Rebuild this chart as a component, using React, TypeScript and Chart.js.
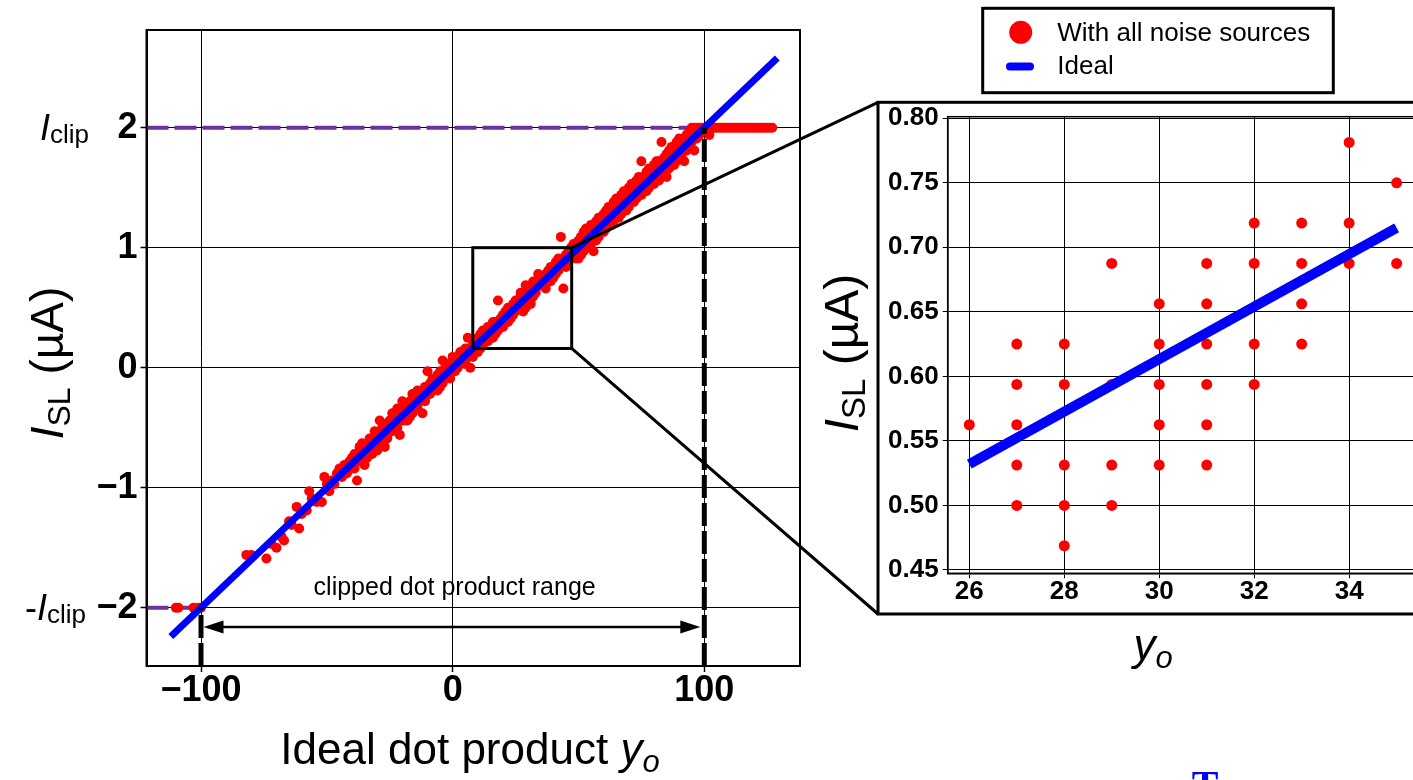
import React, { useEffect, useRef } from 'react';
import { Chart, registerables } from 'chart.js';

Chart.register(...registerables);

const FONT = "'Liberation Sans', Arial, Helvetica, sans-serif";

// ---------- main panel data ----------
const mainXTicks = [-100, 0, 100];
const mainYTicks = [-2, -1, 0, 1, 2];
const mainXRange = [-121.66, 138.03];
const mainYRange = [-2.486, 2.814];

const idealX = [-112, 129];
const idealY = [-2.24, 2.58];
const clipLevels = [2, -2];
const clipRangeX = [-100, 100];
const zoomBoxX = [8, 47.3];
const zoomBoxY = [0.16, 1.0];
const arrowY = -2.16;

// noisy samples, grouped as [x, [y values...]]
const lowClipPoints: [number, number][] = [[-110, -2], [-109, -2], [-103, -2], [-101, -2], [-100, -2]];
const sparseLeftPoints: [number, number][] = [
  [-82, -1.56], [-80, -1.56], [-74, -1.59], [-72, -1.47], [-70, -1.5], [-68, -1.41], [-67, -1.44],
  [-65, -1.28], [-64, -1.31], [-62, -1.16], [-61, -1.34], [-60, -1.22], [-58, -1.19], [-57, -1.03],
  [-56, -1.09], [-54, -1.12], [-52, -1.12], [-51, -0.91], [-50, -0.97], [-49, -1.03], [-48, -0.94],
  [-47, -0.97], [-46, -0.88], [-45, -0.84], [-44, -0.91], [-43, -0.81], [-42, -0.88], [-41, -0.78],
  [-40, -0.75], [-40, -0.84],
];
const negativeBand: [number, number[]][] = [
  [-39, [-0.75, -0.72, -0.84]], [-38, [-0.94, -0.72]], [-37, [-0.69, -0.78, -0.66]], [-36, [-0.75, -0.63]], [-35, [-0.81, -0.66]],
  [-34, [-0.69, -0.75]], [-33, [-0.63, -0.72, -0.59]], [-32, [-0.59, -0.66, -0.72]], [-31, [-0.53, -0.66]], [-30, [-0.59, -0.63, -0.69]],
  [-29, [-0.44, -0.56, -0.63]], [-28, [-0.5, -0.59]], [-27, [-0.66, -0.53, -0.47]], [-26, [-0.47, -0.56, -0.59]], [-25, [-0.44, -0.53]],
  [-24, [-0.38, -0.5, -0.53]], [-23, [-0.41, -0.47, -0.38]], [-22, [-0.34, -0.44, -0.5]], [-21, [-0.56, -0.41]], [-20, [-0.28, -0.41, -0.44]],
  [-19, [-0.34, -0.44, -0.31]], [-18, [-0.31, -0.38, -0.44]], [-17, [-0.28, -0.41]], [-16, [-0.22, -0.34, -0.38]], [-15, [-0.25, -0.31, -0.22]],
  [-14, [-0.19, -0.31, -0.34]], [-13, [-0.22, -0.28]], [-12, [-0.19, -0.38, -0.25]], [-11, [-0.16, -0.25, -0.28]], [-10, [-0.03, -0.22, -0.19]],
  [-9, [-0.13, -0.19, -0.22]], [-8, [-0.09, -0.19, -0.13]], [-7, [-0.13, -0.16]], [-6, [-0.13, -0.06, -0.19]], [-5, [-0.03, -0.16, -0.09]],
  [-4, [0.06, -0.09, -0.13]], [-3, [0.0, -0.06, -0.09]], [-2, [0.03, -0.06, -0.03]], [-1, [0.03, -0.09, 0.0]],
];
const positiveBand: [number, number[]][] = [
  [0, [0.0, 0.09, -0.03]], [1, [0.06, -0.03, 0.03]], [2, [0.09, 0.0, 0.03]], [3, [0.13, 0.03, 0.09]], [4, [0.06, 0.09, 0.13]],
  [5, [0.16, 0.06, 0.03]], [6, [0.25, 0.09, 0.13]], [7, [0.0, 0.16, 0.13]], [8, [0.19, 0.13, 0.09]], [9, [0.22, 0.16, 0.13]],
  [10, [0.19, 0.25, 0.13]], [11, [0.16, 0.28, 0.22]], [12, [0.25, 0.19, 0.31]], [13, [0.31, 0.22, 0.28]], [14, [0.28, 0.22, 0.34]],
  [15, [0.34, 0.25, 0.31]], [16, [0.31, 0.38, 0.25]], [17, [0.28, 0.38, 0.34]], [18, [0.56, 0.34, 0.31]], [19, [0.41, 0.34, 0.38]],
  [20, [0.38, 0.44, 0.34]], [21, [0.47, 0.38, 0.41]], [22, [0.41, 0.5, 0.38]], [23, [0.47, 0.41, 0.5]], [24, [0.53, 0.44, 0.47]],
  [25, [0.47, 0.56, 0.5]],
  [36, [0.69, 0.75, 0.72]], [37, [0.72, 0.78, 0.66]], [38, [0.75, 0.81, 0.72]], [39, [0.78, 0.72, 0.84]],
  [40, [0.81, 0.84, 0.75]], [41, [0.78, 0.88, 0.84]], [42, [0.84, 0.91, 0.81]], [43, [1.09, 0.88, 0.84]],
  [44, [0.66, 0.91, 0.88]], [45, [0.94, 0.84, 0.91]], [46, [0.97, 0.88, 0.94]], [47, [0.94, 1.0, 0.91]],
  [48, [0.97, 1.03, 0.94]], [49, [1.0, 0.91, 1.03]],
];
const upperBand: [number, number[]][] = [
  [50, [1.06, 0.97, 0.91]], [51, [1.09, 1.03, 0.94]], [52, [1.13, 1.06, 0.97]], [53, [1.16, 1.03, 1.09]],
  [54, [1.13, 1.06, 1.0]], [55, [1.19, 1.09, 1.03]], [56, [1.16, 0.97, 1.09]], [57, [1.22, 1.13, 1.06]],
  [58, [1.25, 1.19, 1.09]], [59, [1.22, 1.13, 1.25]], [60, [1.28, 1.19, 1.13]], [61, [1.31, 1.22, 1.16]],
  [62, [1.28, 1.19, 1.34]], [63, [1.31, 1.25, 1.19]], [64, [1.38, 1.28, 1.22]], [65, [1.34, 1.25, 1.41]],
  [66, [1.38, 1.31, 1.25]], [67, [1.44, 1.34, 1.28]], [68, [1.41, 1.31, 1.47]], [69, [1.44, 1.38, 1.31]],
  [70, [1.5, 1.41, 1.34]], [71, [1.47, 1.38, 1.53]], [72, [1.5, 1.44, 1.38]], [73, [1.56, 1.47, 1.41]],
  [74, [1.53, 1.44, 1.59]], [75, [1.72, 1.53, 1.44]], [76, [1.59, 1.5, 1.47]], [77, [1.63, 1.56, 1.47]],
  [78, [1.59, 1.5, 1.66]], [79, [1.66, 1.59, 1.53]], [80, [1.69, 1.63, 1.53]], [81, [1.66, 1.59, 1.72]],
  [82, [1.72, 1.63, 1.56]], [83, [1.88, 1.69, 1.59]], [84, [1.75, 1.66, 1.63]], [85, [1.59, 1.72, 1.78]],
  [86, [1.81, 1.72, 1.66]], [87, [1.78, 1.69, 1.84]], [88, [1.84, 1.75, 1.69]], [89, [1.88, 1.78, 1.72]],
  [90, [1.84, 1.75, 1.91]], [91, [1.88, 1.81, 1.75]], [92, [1.72, 1.91, 1.84]], [93, [1.94, 1.84, 1.81]],
  [94, [1.97, 1.91, 1.84]], [95, [2.0, 1.94, 1.88]], [96, [1.81, 2.0, 1.94]], [97, [2.0, 1.97, 1.91]],
  [98, [2.0, 1.94]], [99, [2.0, 1.97]], [100, [2.0]], [101, [2.0]], [102, [1.94, 2.0]],
];
const highClipX = [103, 104, 105, 106, 107, 108, 109, 110, 111, 112, 113, 114, 115, 116, 117, 118, 119, 120, 121, 122, 123, 124, 125, 126, 127];
const highClipY = 2;

// ---------- inset data ----------
const insetXTicks = [26, 28, 30, 32, 34];
const insetYTicks = [0.45, 0.5, 0.55, 0.6, 0.65, 0.7, 0.75, 0.8];
const insetXRange = [25.545, 35.45];
const insetYRange = [0.4474, 0.8012];
const insetColumns: [number, number[]][] = [
  [26, [0.5625]],
  [27, [0.625, 0.59375, 0.5625, 0.53125, 0.5]],
  [28, [0.625, 0.59375, 0.53125, 0.5, 0.46875]],
  [29, [0.6875, 0.59375, 0.53125, 0.5]],
  [30, [0.65625, 0.625, 0.59375, 0.5625, 0.53125]],
  [31, [0.6875, 0.65625, 0.625, 0.59375, 0.5625, 0.53125]],
  [32, [0.71875, 0.6875, 0.625, 0.59375]],
  [33, [0.71875, 0.6875, 0.65625, 0.625]],
  [34, [0.78125, 0.71875, 0.6875]],
  [35, [0.75, 0.6875]],
];
const insetIdealX = [26, 35];
const insetIdealY = [0.532, 0.715];

// ---------- layout (page pixels) ----------
const INSET_LEFT = 810;
const INSET_TOP = 95;
const INSET_FRAME = { left: 878, top: 102.3, bottom: 614 };

const flatten = (cols: [number, number[]][]) =>
  cols.flatMap(([x, ys]) => ys.map((y) => ({ x, y })));

const fmtMinus = (v: number) => (v < 0 ? '\u2212' + Math.abs(v) : String(v));

type Part = { t: string; font: string; dy?: number };
function drawParts(ctx: CanvasRenderingContext2D, parts: Part[], x: number, y: number, align: 'left' | 'center' | 'right') {
  let total = 0;
  for (const p of parts) {
    ctx.font = p.font;
    total += ctx.measureText(p.t).width;
  }
  let cx = align === 'center' ? x - total / 2 : align === 'right' ? x - total : x;
  ctx.textAlign = 'left';
  ctx.textBaseline = 'alphabetic';
  for (const p of parts) {
    ctx.font = p.font;
    ctx.fillText(p.t, cx, y + (p.dy || 0));
    cx += ctx.measureText(p.t).width;
  }
}

const ISL = (size: number, sub: number): Part[] => [
  { t: 'I', font: `italic ${size}px ${FONT}` },
  { t: 'SL', font: `${sub}px ${FONT}`, dy: 7 },
  { t: ' (\u00b5A)', font: `${size}px ${FONT}` },
];

const mainDecor = {
  id: 'mainDecor',
  afterDraw(chart: any) {
    const { ctx, chartArea: a, scales } = chart;
    const x = scales.x, y = scales.y;
    ctx.save();
    ctx.strokeStyle = '#000';
    ctx.fillStyle = '#000';
    ctx.lineWidth = 2;
    ctx.strokeRect(a.left, a.top, a.right - a.left, a.bottom - a.top);

    // zoom box + connectors
    const bx0 = x.getPixelForValue(zoomBoxX[0]);
    const bx1 = x.getPixelForValue(zoomBoxX[1]);
    const byTop = y.getPixelForValue(zoomBoxY[1]);
    const byBot = y.getPixelForValue(zoomBoxY[0]);
    ctx.lineWidth = 3;
    ctx.strokeRect(bx0, byTop, bx1 - bx0, byBot - byTop);
    ctx.beginPath();
    ctx.moveTo(bx1, byTop);
    ctx.lineTo(INSET_FRAME.left, INSET_FRAME.top);
    ctx.moveTo(bx1, byBot);
    ctx.lineTo(INSET_FRAME.left, INSET_FRAME.bottom);
    ctx.stroke();

    // double arrow
    const ay = y.getPixelForValue(arrowY);
    const ax0 = x.getPixelForValue(clipRangeX[0]) + 2.5;
    const ax1 = x.getPixelForValue(clipRangeX[1]) - 4;
    ctx.lineWidth = 2.5;
    ctx.beginPath();
    ctx.moveTo(ax0 + 15, ay);
    ctx.lineTo(ax1 - 15, ay);
    ctx.stroke();
    ctx.beginPath();
    ctx.moveTo(ax0, ay);
    ctx.lineTo(ax0 + 20, ay - 6.5);
    ctx.lineTo(ax0 + 20, ay + 6.5);
    ctx.closePath();
    ctx.fill();
    ctx.beginPath();
    ctx.moveTo(ax1, ay);
    ctx.lineTo(ax1 - 20, ay - 6.5);
    ctx.lineTo(ax1 - 20, ay + 6.5);
    ctx.closePath();
    ctx.fill();
    ctx.font = `25px ${FONT}`;
    ctx.textAlign = 'center';
    ctx.textBaseline = 'alphabetic';
    ctx.fillText('clipped dot product range', x.getPixelForValue(0) + 2, ay - 31.5);

    // I_clip labels
    const yc = y.getPixelForValue(clipLevels[0]);
    const ycn = y.getPixelForValue(clipLevels[1]);
    drawParts(ctx, [
      { t: 'I', font: `italic 36px ${FONT}` },
      { t: 'clip', font: `26px ${FONT}`, dy: 3 },
    ], 89, yc + 12, 'right');
    drawParts(ctx, [
      { t: '-', font: `36px ${FONT}` },
      { t: 'I', font: `italic 36px ${FONT}` },
      { t: 'clip', font: `26px ${FONT}`, dy: 3 },
    ], 86, ycn + 12, 'right');

    // axis titles
    drawParts(ctx, [
      { t: 'Ideal dot product ', font: `44px ${FONT}` },
      { t: 'y', font: `italic 44px ${FONT}` },
      { t: 'o', font: `italic 31px ${FONT}`, dy: 8 },
    ], 470, 764, 'center');
    ctx.save();
    ctx.translate(63, 363);
    ctx.rotate(-Math.PI / 2);
    drawParts(ctx, ISL(46, 32), 0, 0, 'center');
    ctx.restore();

    // legend
    ctx.fillStyle = '#fff';
    ctx.fillRect(982.7, 8.3, 350.6, 84.4);
    ctx.strokeStyle = '#000';
    ctx.lineWidth = 3;
    ctx.strokeRect(982.7, 8.3, 350.6, 84.4);
    ctx.fillStyle = '#ff0000';
    ctx.beginPath();
    ctx.arc(1020.7, 32.3, 11.5, 0, Math.PI * 2);
    ctx.fill();
    ctx.strokeStyle = '#0000ff';
    ctx.lineWidth = 8;
    ctx.lineCap = 'round';
    ctx.beginPath();
    ctx.moveTo(1010, 66.5);
    ctx.lineTo(1030, 66.5);
    ctx.stroke();
    ctx.fillStyle = '#000';
    ctx.font = `26px ${FONT}`;
    ctx.textAlign = 'left';
    ctx.fillText('With all noise sources', 1057.3, 41);
    ctx.fillText('Ideal', 1057.3, 73.5);

    // cropped caption fragment
    ctx.fillStyle = '#0000ff';
    ctx.font = `bold 40px 'Liberation Serif', serif`;
    ctx.textAlign = 'center';
    ctx.fillText('T', 1205, 797.5);
    ctx.restore();
  },
};

const insetDecor = {
  id: 'insetDecor',
  afterDraw(chart: any) {
    const { ctx, chartArea: a } = chart;
    ctx.save();
    ctx.strokeStyle = '#000';
    ctx.lineWidth = 1.5;
    ctx.strokeRect(a.left, a.top, a.right - a.left, a.bottom - a.top);
    ctx.lineWidth = 3;
    const fl = INSET_FRAME.left - INSET_LEFT;
    const ft = INSET_FRAME.top - INSET_TOP;
    const fb = INSET_FRAME.bottom - INSET_TOP;
    ctx.strokeRect(fl, ft, 700, fb - ft);
    ctx.fillStyle = '#000';
    drawParts(ctx, [
      { t: 'y', font: `italic 44px ${FONT}` },
      { t: 'o', font: `italic 31px ${FONT}`, dy: 8 },
    ], 1153 - INSET_LEFT, 660 - INSET_TOP, 'center');
    ctx.save();
    ctx.translate(858 - INSET_LEFT, 353 - INSET_TOP);
    ctx.rotate(-Math.PI / 2);
    drawParts(ctx, ISL(48, 33), 0, 0, 'center');
    ctx.restore();
    ctx.restore();
  },
};

export default function App() {
  const mainRef = useRef<HTMLCanvasElement>(null);
  const insetRef = useRef<HTMLCanvasElement>(null);

  useEffect(() => {
    const noisy = [
      ...lowClipPoints.map(([x, y]) => ({ x, y })),
      ...sparseLeftPoints.map(([x, y]) => ({ x, y })),
      ...flatten(negativeBand),
      ...flatten(positiveBand),
      ...flatten(insetColumns),
      ...flatten(upperBand),
      ...highClipX.map((x) => ({ x, y: highClipY })),
    ];
    const tickFontMain = { family: FONT, size: 36, weight: 'bold' as const };
    const main = new Chart(mainRef.current!, {
      type: 'scatter',
      data: {
        datasets: [
          {
            label: 'clip -100',
            data: [{ x: clipRangeX[0], y: mainYRange[0] }, { x: clipRangeX[0], y: clipLevels[1] }],
            showLine: true, borderColor: '#000', borderWidth: 5, borderDash: [23, 5], pointRadius: 0,
          },
          {
            label: 'clip 100',
            data: [{ x: clipRangeX[1], y: mainYRange[0] }, { x: clipRangeX[1], y: clipLevels[0] }],
            showLine: true, borderColor: '#000', borderWidth: 5, borderDash: [23, 5], pointRadius: 0,
          },
          {
            label: 'Ideal',
            data: idealX.map((x, i) => ({ x, y: idealY[i] })),
            showLine: true, borderColor: '#0000ff', borderWidth: 7, pointRadius: 0,
          },
          {
            label: 'With all noise sources',
            data: noisy,
            showLine: false, pointRadius: 5, pointBackgroundColor: '#ff0000', pointBorderWidth: 0,
            backgroundColor: '#ff0000', borderColor: '#ff0000',
          },
          {
            label: 'Iclip',
            data: [{ x: mainXRange[0], y: clipLevels[0] }, { x: clipRangeX[1], y: clipLevels[0] }],
            showLine: true, borderColor: '#7030a0', borderWidth: 4, borderDash: [22, 6], pointRadius: 0,
          },
          {
            label: '-Iclip',
            data: [{ x: mainXRange[0], y: clipLevels[1] }, { x: clipRangeX[0], y: clipLevels[1] }],
            showLine: true, borderColor: '#7030a0', borderWidth: 4, borderDash: [22, 6], pointRadius: 0,
          },
        ],
      },
      options: {
        responsive: false,
        animation: false,
        events: [],
        layout: { padding: { left: 0, top: 30, right: 613, bottom: 0 } },
        plugins: { legend: { display: false }, tooltip: { enabled: false } },
        scales: {
          x: {
            type: 'linear', min: mainXRange[0], max: mainXRange[1],
            afterBuildTicks: (s: any) => { s.ticks = mainXTicks.map((v) => ({ value: v })); },
            afterFit: (s: any) => { s.height = 114; },
            grid: { color: '#000', lineWidth: 1, tickLength: 6, tickColor: '#000', tickWidth: 1.5 },
            border: { display: true, color: '#000', width: 2 },
            ticks: { font: tickFontMain, color: '#000', padding: -3, maxRotation: 0, autoSkip: false, callback: (v: any) => fmtMinus(Number(v)) },
          },
          y: {
            type: 'linear', min: mainYRange[0], max: mainYRange[1],
            afterBuildTicks: (s: any) => { s.ticks = mainYTicks.map((v) => ({ value: v })); },
            afterFit: (s: any) => { s.width = 146.5; },
            grid: { color: '#000', lineWidth: 1, tickLength: 6, tickColor: '#000', tickWidth: 1.5 },
            border: { display: true, color: '#000', width: 2 },
            ticks: { font: tickFontMain, color: '#000', padding: 3, autoSkip: false, callback: (v: any) => fmtMinus(Number(v)) },
          },
        },
      },
      plugins: [mainDecor],
    } as any);

    const tickFontInset = { family: FONT, size: 26, weight: 'bold' as const };
    const inset = new Chart(insetRef.current!, {
      type: 'scatter',
      data: {
        datasets: [
          {
            label: 'Ideal',
            data: insetIdealX.map((x, i) => ({ x, y: insetIdealY[i] })),
            showLine: true, borderColor: '#0000ff', borderWidth: 10, pointRadius: 0,
          },
          {
            label: 'With all noise sources',
            data: flatten(insetColumns),
            showLine: false, pointRadius: 5.5, pointBackgroundColor: '#ff0000', pointBorderWidth: 0,
            backgroundColor: '#ff0000', borderColor: '#ff0000',
          },
        ],
      },
      options: {
        responsive: false,
        animation: false,
        events: [],
        layout: { padding: { left: 0, top: 21.7, right: 32, bottom: 0 } },
        plugins: { legend: { display: false }, tooltip: { enabled: false } },
        scales: {
          x: {
            type: 'linear', min: insetXRange[0], max: insetXRange[1],
            afterBuildTicks: (s: any) => { s.ticks = insetXTicks.map((v) => ({ value: v })); },
            afterFit: (s: any) => { s.height = 121.7; },
            grid: { color: '#000', lineWidth: 1, tickLength: 5, tickColor: '#000' },
            border: { display: true, color: '#000', width: 1.5 },
            ticks: { font: tickFontInset, color: '#000', padding: -2, maxRotation: 0, autoSkip: false, callback: (v: any) => String(v) },
          },
          y: {
            type: 'linear', min: insetYRange[0], max: insetYRange[1],
            afterBuildTicks: (s: any) => { s.ticks = insetYTicks.map((v) => ({ value: v })); },
            afterFit: (s: any) => { s.width = 137.7; },
            grid: { color: '#000', lineWidth: 1, tickLength: 5, tickColor: '#000' },
            border: { display: true, color: '#000', width: 1.5 },
            ticks: { font: tickFontInset, color: '#000', padding: 4, autoSkip: false, callback: (v: any) => Number(v).toFixed(2) },
          },
        },
      },
      plugins: [insetDecor],
    } as any);

    return () => {
      main.destroy();
      inset.destroy();
    };
  }, []);

  return (
    <div style={{ position: 'fixed', left: 0, top: 0, width: 1413, height: 780, overflow: 'hidden', background: '#fff' }}>
      <canvas ref={mainRef} width={1413} height={780} style={{ position: 'absolute', left: 0, top: 0 }} />
      <canvas ref={insetRef} width={640} height={600} style={{ position: 'absolute', left: INSET_LEFT, top: INSET_TOP }} />
    </div>
  );
}
